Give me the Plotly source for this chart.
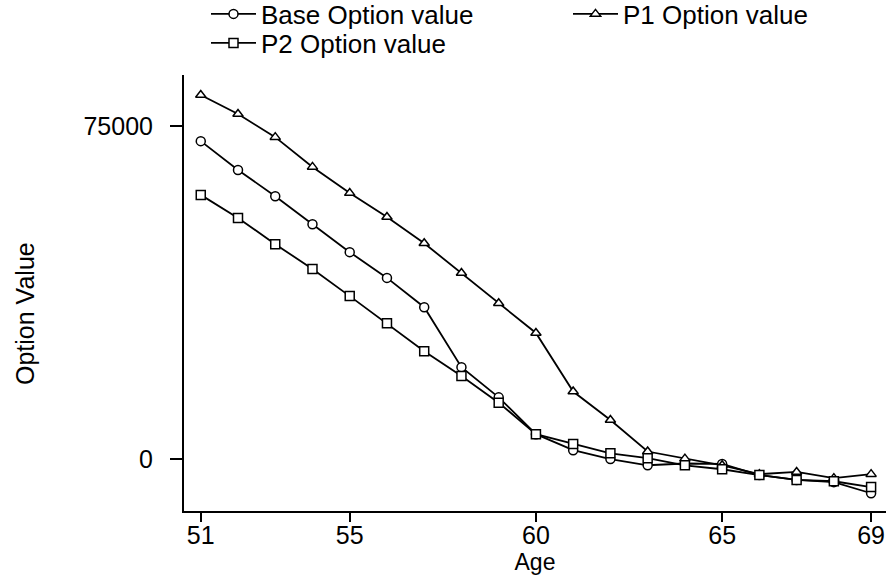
import plotly.graph_objects as go

ages = list(range(51, 70))
base_vals = [71600, 65100, 59200, 52900, 46600, 40800, 34200, 20700, 13900, 5600,
             2000, 0, -1400, -1000, -1100, -3600, -4700, -5200, -7700]
p1_vals = [82000, 77700, 72500, 65800, 59900, 54500, 48600, 41900, 35100, 28400,
           15200, 8800, 1700, 100, -1400, -3400, -2900, -4300, -3400]
p2_vals = [59500, 54300, 48400, 42800, 36700, 30600, 24300, 18700, 12700, 5600,
           3400, 1300, 200, -1400, -2300, -3600, -4700, -5000, -6300]
x_ticks = [51, 55, 60, 65, 69]
y_ticks = [0, 75000]

FONT = "Liberation Sans, Arial, sans-serif"
W, H = 890, 576
L, R, T, B = 184, 4, 75, 65

fig = go.Figure()
series = [
    ("Base Option value", base_vals, "circle", "legend"),
    ("P1 Option value", p1_vals, "triangle-up", "legend2"),
    ("P2 Option value", p2_vals, "square", "legend3"),
]
for name, vals, sym, lg in series:
    fig.add_trace(go.Scatter(
        x=ages, y=vals, name=name, mode="lines+markers",
        line=dict(color="black", width=1.8),
        marker=dict(symbol=sym, size=9, color="white",
                    line=dict(color="black", width=1.5)),
        legend=lg, showlegend=True,
    ))

def leg(xpx, ypx):
    return dict(
        x=xpx / W, y=1 - ypx / H, xref="container", yref="container",
        xanchor="left", yanchor="middle", orientation="h",
        font=dict(family=FONT, size=26, color="black"),
        bgcolor="rgba(0,0,0,0)", borderwidth=0, itemwidth=45,
        tracegroupgap=0, visible=True,
    )

fig.update_layout(
    width=W, height=H,
    margin=dict(l=L, r=R, t=T, b=B),
    paper_bgcolor="white", plot_bgcolor="white",
    font=dict(family=FONT, size=25, color="black"),
    showlegend=True,
    legend=leg(206, 14),
    legend2=leg(568, 14),
    legend3=leg(206, 43),
    xaxis=dict(
        range=[50.55, 69.4], tickvals=x_ticks, ticktext=[str(v) for v in x_ticks],
        ticks="outside", ticklen=9, tickwidth=1.5, tickcolor="black",
        showline=True, linecolor="black", linewidth=2, mirror=False,
        showgrid=False, zeroline=False, ticklabelstandoff=-8,
        tickfont=dict(family=FONT, size=25, color="black"),
        title=dict(text="Age", font=dict(family=FONT, size=23, color="black"), standoff=4),
    ),
    yaxis=dict(
        range=[-11700, 86500], tickvals=y_ticks, ticktext=[str(v) for v in y_ticks],
        ticks="outside", ticklen=12, tickwidth=1.5, tickcolor="black",
        showline=True, linecolor="black", linewidth=2, mirror=False,
        showgrid=False, zeroline=False, ticklabelstandoff=12,
        tickfont=dict(family=FONT, size=25, color="black"),
    ),
    annotations=[dict(
        text="Option Value", textangle=-90, showarrow=False,
        xref="paper", yref="paper",
        x=(25 - L) / (W - L - R), y=1 - (314 - T) / (H - T - B),
        xanchor="center", yanchor="middle",
        font=dict(family=FONT, size=25, color="black"),
    )],
)

fig.write_html("out.html")
